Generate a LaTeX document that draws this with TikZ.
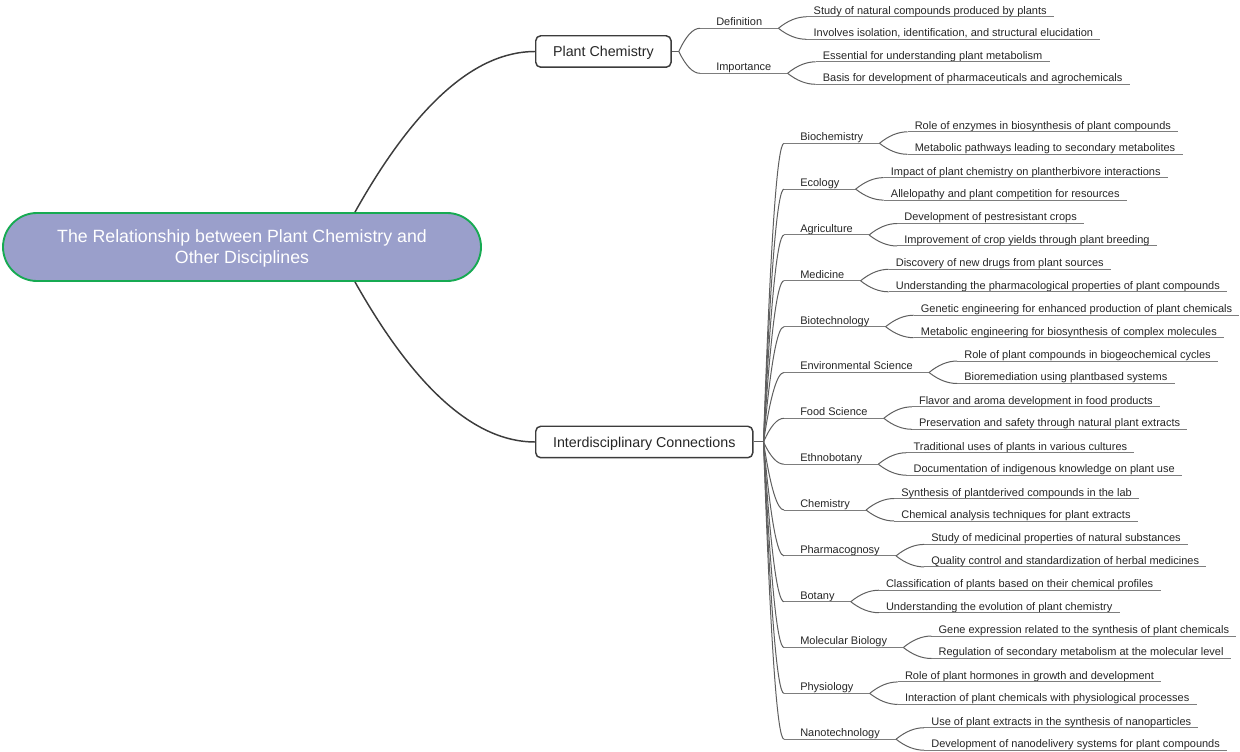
\documentclass[tikz,border=0pt]{standalone}
\usepackage{fontspec}
\setmainfont{Liberation Sans}
\usetikzlibrary{positioning, calc}
\definecolor{rootfill}{RGB}{154,159,203}
\definecolor{rootedge}{RGB}{22,170,82}
\definecolor{ink}{RGB}{60,60,60}
\definecolor{wire}{RGB}{95,95,95}
\definecolor{ugray}{RGB}{125,125,125}
\tikzstyle{root} = [rectangle, rounded corners=25.5pt, fill=rootfill, draw=rootedge, line width=1.4pt, minimum width=358.5pt, minimum height=51pt, text=white, align=center, text depth=0pt, execute at begin node={\rule{0pt}{12.7pt}}, font=\fontsize{13.3}{15.8}\selectfont]
\tikzstyle{topic} = [rectangle, rounded corners=3.75pt, fill=white, draw=ink, line width=1.1pt, minimum height=23.6pt, inner xsep=13pt, text height=7.7pt, text depth=0pt, text=black!85, font=\fontsize{10.7}{13}\selectfont]
\tikzstyle{uline} = [draw=ugray, line width=0.75pt]
\tikzstyle{sub} = [inner xsep=12pt, inner ysep=1.1pt, text height=6pt, text depth=0.6pt, text=black!85, font=\fontsize{8.25}{10}\selectfont, append after command={(\tikzlastnode.south west) edge[uline] (\tikzlastnode.south east)}]
\tikzstyle{leaf} = [sub, inner xsep=5.25pt]
\tikzstyle{line} = [draw=wire, line width=0.75pt]
\tikzstyle{branch} = [line, to path={let \p1=(\tikztostart), \p2=(\tikztotarget) in .. controls ({\x1+(\x2-\x1)/3},{\y1+2*(\y2-\y1)/3}) and ({\x2-(\x2-\x1)/3},\y2) .. (\tikztotarget)}]
\tikzstyle{main} = [branch, draw=ink, line width=1.1pt]
\tikzstyle{up} = [above right=8.6pt and 21pt of #1, anchor=south west]
\tikzstyle{down} = [below right=8.25pt and 21pt of #1, anchor=south west]

\begin{document}
\begin{tikzpicture}[x=0.75pt, y=-0.75pt]
	\useasboundingbox (0,0) rectangle (1240,752);

	\node [root] (root) at (242,247) {The Relationship between Plant Chemistry and\\Other Disciplines};
	\coordinate (rtop) at ($(root.north)+(113,0)$);
	\coordinate (rbot) at ($(root.south)+(113,0)$);

	\node [topic, anchor=west] (pc) at (535,51.5) {Plant Chemistry};
	\node [topic, anchor=west] (ic) at (535,442) {Interdisciplinary Connections};
	\coordinate (pcfan) at ([xshift=5.25pt]pc.east);
	\coordinate (icfan) at ([xshift=7.5pt]ic.east);

	\path [main] (rtop) to (pc.west);
	\path [main] (rbot) to (ic.west);
	\path [line] (pc.east) -- (pcfan);
	\path [line] (ic.east) -- (icfan);

	% plant chemistry
	\node [sub, anchor=south west] (def) at (700,28.3) {Definition};
	\node [leaf, up=def.south east] (def1) {Study of natural compounds produced by plants};
	\node [leaf, down=def.south east] (def2) {Involves isolation, identification, and structural elucidation};
	\node [sub, anchor=south west] (imp) at (700,73.3) {Importance};
	\node [leaf, up=imp.south east] (imp1) {Essential for understanding plant metabolism};
	\node [leaf, down=imp.south east] (imp2) {Basis for development of pharmaceuticals and agrochemicals};

	\path [branch] (pcfan) to (def.south west);
	\path [branch] (pcfan) to (imp.south west);
	\path [branch] (def.south east) to (def1.south west);
	\path [branch] (def.south east) to (def2.south west);
	\path [branch] (imp.south east) to (imp1.south west);
	\path [branch] (imp.south east) to (imp2.south west);

	% interdisciplinary connections
	\node [sub, anchor=south west] (bio) at (784,143.3) {Biochemistry};
	\node [leaf, up=bio.south east] (bio1) {Role of enzymes in biosynthesis of plant compounds};
	\node [leaf, down=bio.south east] (bio2) {Metabolic pathways leading to secondary metabolites};
	\node [sub, anchor=south west] (eco) at (784,189.1) {Ecology};
	\node [leaf, up=eco.south east] (eco1) {Impact of plant chemistry on plantherbivore interactions};
	\node [leaf, down=eco.south east] (eco2) {Allelopathy and plant competition for resources};
	\node [sub, anchor=south west] (agr) at (784,235) {Agriculture};
	\node [leaf, up=agr.south east] (agr1) {Development of pestresistant crops};
	\node [leaf, down=agr.south east] (agr2) {Improvement of crop yields through plant breeding};
	\node [sub, anchor=south west] (med) at (784,280.8) {Medicine};
	\node [leaf, up=med.south east] (med1) {Discovery of new drugs from plant sources};
	\node [leaf, down=med.south east] (med2) {Understanding the pharmacological properties of plant compounds};
	\node [sub, anchor=south west] (btc) at (784,326.7) {Biotechnology};
	\node [leaf, up=btc.south east] (btc1) {Genetic engineering for enhanced production of plant chemicals};
	\node [leaf, down=btc.south east] (btc2) {Metabolic engineering for biosynthesis of complex molecules};
	\node [sub, anchor=south west] (env) at (784,372.5) {Environmental Science};
	\node [leaf, up=env.south east] (env1) {Role of plant compounds in biogeochemical cycles};
	\node [leaf, down=env.south east] (env2) {Bioremediation using plantbased systems};
	\node [sub, anchor=south west] (food) at (784,418.3) {Food Science};
	\node [leaf, up=food.south east] (food1) {Flavor and aroma development in food products};
	\node [leaf, down=food.south east] (food2) {Preservation and safety through natural plant extracts};
	\node [sub, anchor=south west] (eth) at (784,464.2) {Ethnobotany};
	\node [leaf, up=eth.south east] (eth1) {Traditional uses of plants in various cultures};
	\node [leaf, down=eth.south east] (eth2) {Documentation of indigenous knowledge on plant use};
	\node [sub, anchor=south west] (chem) at (784,510) {Chemistry};
	\node [leaf, up=chem.south east] (chem1) {Synthesis of plantderived compounds in the lab};
	\node [leaf, down=chem.south east] (chem2) {Chemical analysis techniques for plant extracts};
	\node [sub, anchor=south west] (phg) at (784,555.9) {Pharmacognosy};
	\node [leaf, up=phg.south east] (phg1) {Study of medicinal properties of natural substances};
	\node [leaf, down=phg.south east] (phg2) {Quality control and standardization of herbal medicines};
	\node [sub, anchor=south west] (bot) at (784,601.7) {Botany};
	\node [leaf, up=bot.south east] (bot1) {Classification of plants based on their chemical profiles};
	\node [leaf, down=bot.south east] (bot2) {Understanding the evolution of plant chemistry};
	\node [sub, anchor=south west] (mol) at (784,647.5) {Molecular Biology};
	\node [leaf, up=mol.south east] (mol1) {Gene expression related to the synthesis of plant chemicals};
	\node [leaf, down=mol.south east] (mol2) {Regulation of secondary metabolism at the molecular level};
	\node [sub, anchor=south west] (phy) at (784,693.4) {Physiology};
	\node [leaf, up=phy.south east] (phy1) {Role of plant hormones in growth and development};
	\node [leaf, down=phy.south east] (phy2) {Interaction of plant chemicals with physiological processes};
	\node [sub, anchor=south west] (nano) at (784,739.2) {Nanotechnology};
	\node [leaf, up=nano.south east] (nano1) {Use of plant extracts in the synthesis of nanoparticles};
	\node [leaf, down=nano.south east] (nano2) {Development of nanodelivery systems for plant compounds};

	\path [branch] (icfan) to (bio.south west);
	\path [branch] (icfan) to (eco.south west);
	\path [branch] (icfan) to (agr.south west);
	\path [branch] (icfan) to (med.south west);
	\path [branch] (icfan) to (btc.south west);
	\path [branch] (icfan) to (env.south west);
	\path [branch] (icfan) to (food.south west);
	\path [branch] (icfan) to (eth.south west);
	\path [branch] (icfan) to (chem.south west);
	\path [branch] (icfan) to (phg.south west);
	\path [branch] (icfan) to (bot.south west);
	\path [branch] (icfan) to (mol.south west);
	\path [branch] (icfan) to (phy.south west);
	\path [branch] (icfan) to (nano.south west);

	\path [branch] (bio.south east) to (bio1.south west);
	\path [branch] (bio.south east) to (bio2.south west);
	\path [branch] (eco.south east) to (eco1.south west);
	\path [branch] (eco.south east) to (eco2.south west);
	\path [branch] (agr.south east) to (agr1.south west);
	\path [branch] (agr.south east) to (agr2.south west);
	\path [branch] (med.south east) to (med1.south west);
	\path [branch] (med.south east) to (med2.south west);
	\path [branch] (btc.south east) to (btc1.south west);
	\path [branch] (btc.south east) to (btc2.south west);
	\path [branch] (env.south east) to (env1.south west);
	\path [branch] (env.south east) to (env2.south west);
	\path [branch] (food.south east) to (food1.south west);
	\path [branch] (food.south east) to (food2.south west);
	\path [branch] (eth.south east) to (eth1.south west);
	\path [branch] (eth.south east) to (eth2.south west);
	\path [branch] (chem.south east) to (chem1.south west);
	\path [branch] (chem.south east) to (chem2.south west);
	\path [branch] (phg.south east) to (phg1.south west);
	\path [branch] (phg.south east) to (phg2.south west);
	\path [branch] (bot.south east) to (bot1.south west);
	\path [branch] (bot.south east) to (bot2.south west);
	\path [branch] (mol.south east) to (mol1.south west);
	\path [branch] (mol.south east) to (mol2.south west);
	\path [branch] (phy.south east) to (phy1.south west);
	\path [branch] (phy.south east) to (phy2.south west);
	\path [branch] (nano.south east) to (nano1.south west);
	\path [branch] (nano.south east) to (nano2.south west);
\end{tikzpicture}
\end{document}
